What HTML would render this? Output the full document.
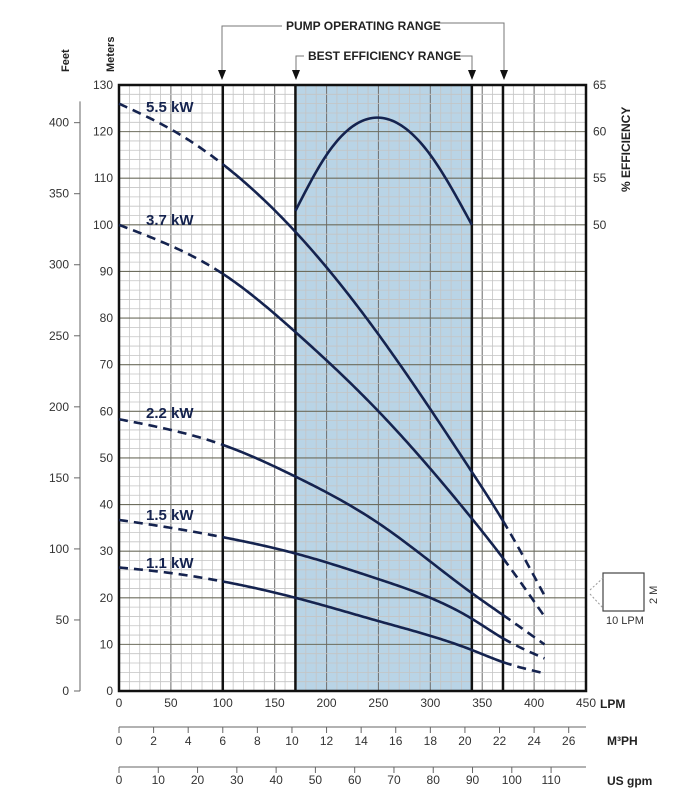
<!DOCTYPE html>
<html><head><meta charset="utf-8"><style>
html,body{margin:0;padding:0;background:#fff;}
svg{display:block;font-family:"Liberation Sans",sans-serif;}
</style></head><body>
<svg id="chart" width="685" height="800" viewBox="0 0 685 800" xmlns="http://www.w3.org/2000/svg"></svg>
<script>
const lpmTicks=[0,50,100,150,200,250,300,350,400,450];
const meterTicks=[0,10,20,30,40,50,60,70,80,90,100,110,120,130];
const feetTicks=[0,50,100,150,200,250,300,350,400];
const effTicks=[50,55,60,65];
const m3phTicks=[0,2,4,6,8,10,12,14,16,18,20,22,24,26];
const gpmTicks=[0,10,20,30,40,50,60,70,80,90,100,110];
const flowPoints=[0,50,100,170,250,340,370,410];
const head55=[126,120.5,113,98.5,76.5,47,36.5,20.5];
const head37=[100,95.5,89.5,77,60,37,28.5,16];
const head22=[58.3,56,52.8,46,36,21,16.3,10];
const head15=[36.7,35,33,29.5,24,15.5,11.3,7];
const head11=[26.5,25.3,23.5,20,15,8.8,6.2,3.8];
const motorLabels=["5.5 kW","3.7 kW","2.2 kW","1.5 kW","1.1 kW"];
const effFlow=[170,200,250,300,340];
const effValues=[51.5,57.5,61.5,57.5,50];
const bepRange=[170,340];
const operRange=[100,370];

const svg=document.getElementById('chart');
const NS='http://www.w3.org/2000/svg';
const X0=119,X1=586,Y0=691,Y1=85;
const xs=l=>X0+(X1-X0)*l/450;
const ys=m=>Y0-(Y0-Y1)*m/130;
const ysE=e=>ys(130-(65-e)*2);
const ysF=f=>ys(f*0.3048);
function el(tag,attrs,parent){const e=document.createElementNS(NS,tag);for(const k in attrs)e.setAttribute(k,attrs[k]);(parent||svg).appendChild(e);return e;}
function txt(s,x,y,attrs){const t=el('text',Object.assign({x:x,y:y,'font-size':12,fill:'#333'},attrs||{}));t.textContent=s;return t;}

// natural cubic spline
function spline(xa,ya){const n=xa.length,h=[],al=[],l=[1],mu=[0],z=[0],c=new Array(n).fill(0),b=[],d=[];
 for(let i=0;i<n-1;i++)h[i]=xa[i+1]-xa[i];
 for(let i=1;i<n-1;i++)al[i]=3/h[i]*(ya[i+1]-ya[i])-3/h[i-1]*(ya[i]-ya[i-1]);
 for(let i=1;i<n-1;i++){l[i]=2*(xa[i+1]-xa[i-1])-h[i-1]*mu[i-1];mu[i]=h[i]/l[i];z[i]=(al[i]-h[i-1]*z[i-1])/l[i];}
 for(let j=n-2;j>=0;j--){c[j]=(j===n-2?0:z[j]-mu[j]*c[j+1]);if(j<n-2)c[j]=z[j]-mu[j]*c[j+1];}
 c[n-1]=0;for(let j=n-2;j>=1;j--)c[j]=z[j]-mu[j]*c[j+1];c[0]=0;
 for(let j=0;j<n-1;j++){b[j]=(ya[j+1]-ya[j])/h[j]-h[j]*(c[j+1]+2*c[j])/3;d[j]=(c[j+1]-c[j])/(3*h[j]);}
 return x=>{let j=0;while(j<n-2&&x>xa[j+1])j++;const t=x-xa[j];return ya[j]+b[j]*t+c[j]*t*t+d[j]*t*t*t;};}
function curve(f,a,b,fy){let d='';for(let x=a;x<=b+0.001;x+=2){d+=(d?' L':'M')+xs(x).toFixed(2)+','+fy(f(x)).toFixed(2);}return d;}

const bep=el('rect',{x:xs(bepRange[0]),y:Y1,width:xs(bepRange[1])-xs(bepRange[0]),height:Y0-Y1,fill:'#b9d4e6'});


const grid=el('g',{});


for(let l=0;l<=450;l+=10){const major=l%50===0;el('line',{x1:xs(l),x2:xs(l),y1:Y1,y2:Y0,stroke:major?'#777':'#c4c4c4','stroke-width':major?1.1:0.8},grid);}
for(let m=0;m<=130;m+=2){const major=m%10===0;el('line',{x1:X0,x2:X1,y1:ys(m),y2:ys(m),stroke:major?'#6d6d5d':'#c4c4c4','stroke-width':major?1.1:0.8},grid);}
[operRange[0],bepRange[0],bepRange[1],operRange[1]].forEach(l=>{const ln=el('line',{x1:xs(l),x2:xs(l),y1:Y1,y2:Y0,stroke:'#111','stroke-width':2.5});});
const frame=el('rect',{x:X0,y:Y1,width:X1-X0,height:Y0-Y1,fill:'none',stroke:'#111','stroke-width':2.5});



const heads=[head55,head37,head22,head15,head11];
const labelPos=[[146,112],[146,225],[146,418],[146,520],[146,568]];
heads.forEach((h,i)=>{
  const f=spline(flowPoints,h);
  const a=el('path',{d:curve(f,0,100,ys),fill:'none',stroke:'#15234f','stroke-width':2.6,'stroke-dasharray':'9,6'});
  
  
  const b=el('path',{d:curve(f,100,370,ys),fill:'none',stroke:'#15234f','stroke-width':2.6});
  
  
  const c=el('path',{d:curve(f,370,410,ys),fill:'none',stroke:'#15234f','stroke-width':2.6,'stroke-dasharray':'9,6'});
  
  
  const t=txt(motorLabels[i],labelPos[i][0],labelPos[i][1],{'font-size':15,'font-weight':'bold',fill:'#15234f'});
  
  
});
const ef=spline(effFlow,effValues);
const eff=el('path',{d:curve(ef,170,340,ysE),fill:'none',stroke:'#15234f','stroke-width':2.6});



meterTicks.forEach(m=>{const t=txt(m,113,ys(m)+4,{'text-anchor':'end'});});
const fa=el('line',{x1:80,x2:80,y1:ysF(0),y2:ysF(415),stroke:'#666','stroke-width':1});


feetTicks.forEach(f=>{el('line',{x1:74,x2:80,y1:ysF(f),y2:ysF(f),stroke:'#666'});const t=txt(f,69,ysF(f)+4,{'text-anchor':'end'});});
effTicks.forEach(e=>{const t=txt(e,593,ysE(e)+4,{});});
lpmTicks.forEach(l=>{const t=txt(l,xs(l),707,{'text-anchor':'middle'});});
el('line',{x1:X0,x2:X1,y1:727,y2:727,stroke:'#666'});
m3phTicks.forEach(v=>{const x=xs(v/0.06);el('line',{x1:x,x2:x,y1:727,y2:733,stroke:'#666'});const t=txt(v,x,745,{'text-anchor':'middle'});});
el('line',{x1:X0,x2:X1,y1:767,y2:767,stroke:'#666'});
gpmTicks.forEach(v=>{const x=xs(v*3.785);el('line',{x1:x,x2:x,y1:767,y2:773,stroke:'#666'});const t=txt(v,x,784,{'text-anchor':'middle'});});
</script>
<svg width="685" height="800" style="position:absolute;left:0;top:0" xmlns="http://www.w3.org/2000/svg" font-family="Liberation Sans, sans-serif">
<text transform="translate(69,72) rotate(-90)" font-size="11" font-weight="bold" fill="#222">Feet</text>
<text transform="translate(114,72) rotate(-90)" font-size="11" font-weight="bold" fill="#222">Meters</text>
<text transform="translate(630,192) rotate(-90)" font-size="12" font-weight="bold" fill="#222">% EFFICIENCY</text>
<g stroke="#777" fill="none">
<polyline points="222,76 222,26 282,26"/><polyline points="438,23 504,23 504,76"/>
<polyline points="296,76 296,56 304,56"/><polyline points="458,56 472,56 472,76"/>
</g>
<g fill="#111"><polygon points="218,70 226,70 222,80"/><polygon points="500,70 508,70 504,80"/><polygon points="292,70 300,70 296,80"/><polygon points="468,70 476,70 472,80"/></g>
<text x="286" y="30" font-size="12" font-weight="bold" fill="#222">PUMP OPERATING RANGE</text>
<text x="308" y="60" font-size="12" font-weight="bold" fill="#222">BEST EFFICIENCY RANGE</text>
<g>
<rect x="603" y="573" width="41" height="38" fill="#fff" stroke="#444" stroke-width="1.2"/>
<line x1="590" y1="590" x2="603" y2="578" stroke="#999" stroke-dasharray="2,2"/>
<line x1="590" y1="594" x2="603" y2="608" stroke="#999" stroke-dasharray="2,2"/>
<text transform="translate(657,604) rotate(-90)" font-size="11" fill="#333">2 M</text>
<text x="606" y="624" font-size="11" fill="#333">10 LPM</text>
</g>
<text x="600" y="708" font-size="12" font-weight="bold" fill="#222">LPM</text>
<text x="607" y="745" font-size="12" font-weight="bold" fill="#222">M³PH</text>
<text x="607" y="785" font-size="12" font-weight="bold" fill="#222">US gpm</text>
</svg>
</body></html>
